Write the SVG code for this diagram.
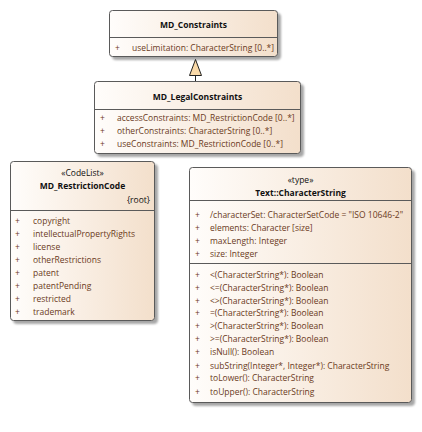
<svg xmlns="http://www.w3.org/2000/svg" width="422" height="432" viewBox="0 0 422 432">
  <defs>
    <linearGradient id="cls" x1="0" y1="0" x2="1" y2="0">
      <stop offset="0" stop-color="#fffdfb"/>
      <stop offset="1" stop-color="#f3dfcb"/>
    </linearGradient>
    <filter id="shd" x="-10%" y="-10%" width="130%" height="130%">
      <feGaussianBlur in="SourceAlpha" stdDeviation="1"/>
      <feOffset dx="3" dy="3"/>
      <feComponentTransfer><feFuncA type="linear" slope="0.35"/></feComponentTransfer>
      <feMerge><feMergeNode/><feMergeNode in="SourceGraphic"/></feMerge>
    </filter>
  </defs>
  <style>
    .box { fill: url(#cls); stroke: #5a5a5a; stroke-width: 1; filter: url(#shd); }
    .div { stroke: #5a5a5a; stroke-width: 1; }
    .title { font-family: "Open Sans", "Liberation Sans", sans-serif; font-size: 8.5px; font-weight: bold; fill: #111; text-anchor: middle; }
    .st { font-family: "Open Sans", "Liberation Sans", sans-serif; font-size: 8.5px; fill: #111; text-anchor: middle; }
    .tag { font-family: "Open Sans", "Liberation Sans", sans-serif; font-size: 8.5px; fill: #111; text-anchor: end; }
    .m { font-family: "Open Sans", "Liberation Sans", sans-serif; font-size: 8.5px; fill: #6b3a1c; }
    .conn { stroke: #222; stroke-width: 1; fill: none; }
    .gen { fill: #f9d9a8; stroke: #222; stroke-width: 1; }
  </style>

  <rect width="422" height="432" fill="#ffffff"/>

  <!-- connectors -->
  <g id="connectors">
    <line class="conn" x1="195.5" y1="75" x2="195.5" y2="81"/>
    <polygon class="gen" points="195.5,59.5 189.5,75.5 201.5,75.5"/>
  </g>

  <!-- MD_Constraints -->
  <g id="MD_Constraints">
    <rect class="box" x="109.5" y="10.5" width="168" height="46" rx="3"/>
    <line class="div" x1="109.5" y1="37.5" x2="277.5" y2="37.5"/>
    <text class="title" x="193.5" y="28">MD_Constraints</text>
    <text class="m" x="115" y="51">+</text>
    <text class="m" x="132" y="51">useLimitation: CharacterString [0..*]</text>
  </g>

  <!-- MD_LegalConstraints -->
  <g id="MD_LegalConstraints">
    <rect class="box" x="94.5" y="81.5" width="206" height="72" rx="3"/>
    <line class="div" x1="94.5" y1="109.5" x2="300.5" y2="109.5"/>
    <text class="title" x="197.5" y="100">MD_LegalConstraints</text>
    <text class="m" x="100" y="121">+</text>
    <text class="m" x="117" y="121">accessConstraints: MD_RestrictionCode [0..*]</text>
    <text class="m" x="100" y="134">+</text>
    <text class="m" x="117" y="134">otherConstraints: CharacterString [0..*]</text>
    <text class="m" x="100" y="147">+</text>
    <text class="m" x="117" y="147">useConstraints: MD_RestrictionCode [0..*]</text>
  </g>

  <!-- MD_RestrictionCode -->
  <g id="MD_RestrictionCode">
    <rect class="box" x="10.5" y="161.5" width="144" height="159" rx="3"/>
    <line class="div" x1="10.5" y1="210.5" x2="154.5" y2="210.5"/>
    <text class="st" x="82.5" y="176">«CodeList»</text>
    <text class="title" x="82.5" y="189">MD_RestrictionCode</text>
    <text class="tag" x="150" y="203">{root}</text>
    <text class="m" x="15" y="224">+</text><text class="m" x="33" y="224">copyright</text>
    <text class="m" x="15" y="237">+</text><text class="m" x="33" y="237">intellectualPropertyRights</text>
    <text class="m" x="15" y="250">+</text><text class="m" x="33" y="250">license</text>
    <text class="m" x="15" y="263">+</text><text class="m" x="33" y="263">otherRestrictions</text>
    <text class="m" x="15" y="276">+</text><text class="m" x="33" y="276">patent</text>
    <text class="m" x="15" y="289">+</text><text class="m" x="33" y="289">patentPending</text>
    <text class="m" x="15" y="302">+</text><text class="m" x="33" y="302">restricted</text>
    <text class="m" x="15" y="315">+</text><text class="m" x="33" y="315">trademark</text>
  </g>

  <!-- Text::CharacterString -->
  <g id="CharacterString">
    <rect class="box" x="189.5" y="167.5" width="222" height="235" rx="3"/>
    <line class="div" x1="189.5" y1="200.5" x2="411.5" y2="200.5"/>
    <line class="div" x1="189.5" y1="263.5" x2="411.5" y2="263.5"/>
    <text class="st" x="300.5" y="183">«type»</text>
    <text class="title" x="300.5" y="196">Text::CharacterString</text>
    <text class="m" x="195" y="218">+</text><text class="m" x="210" y="218">/characterSet: CharacterSetCode = "ISO 10646-2"</text>
    <text class="m" x="195" y="231">+</text><text class="m" x="210" y="231">elements: Character [size]</text>
    <text class="m" x="195" y="244">+</text><text class="m" x="210" y="244">maxLength: Integer</text>
    <text class="m" x="195" y="257">+</text><text class="m" x="210" y="257">size: Integer</text>
    <text class="m" x="195" y="278">+</text><text class="m" x="210" y="278">&lt;(CharacterString*): Boolean</text>
    <text class="m" x="195" y="291">+</text><text class="m" x="210" y="291">&lt;=(CharacterString*): Boolean</text>
    <text class="m" x="195" y="304">+</text><text class="m" x="210" y="304">&lt;&gt;(CharacterString*): Boolean</text>
    <text class="m" x="195" y="316">+</text><text class="m" x="210" y="316">=(CharacterString*): Boolean</text>
    <text class="m" x="195" y="329">+</text><text class="m" x="210" y="329">&gt;(CharacterString*): Boolean</text>
    <text class="m" x="195" y="342">+</text><text class="m" x="210" y="342">&gt;=(CharacterString*): Boolean</text>
    <text class="m" x="195" y="355">+</text><text class="m" x="210" y="355">isNull(): Boolean</text>
    <text class="m" x="195" y="369">+</text><text class="m" x="210" y="369">subString(Integer*, Integer*): CharacterString</text>
    <text class="m" x="195" y="381">+</text><text class="m" x="210" y="381">toLower(): CharacterString</text>
    <text class="m" x="195" y="395">+</text><text class="m" x="210" y="395">toUpper(): CharacterString</text>
  </g>
</svg>
